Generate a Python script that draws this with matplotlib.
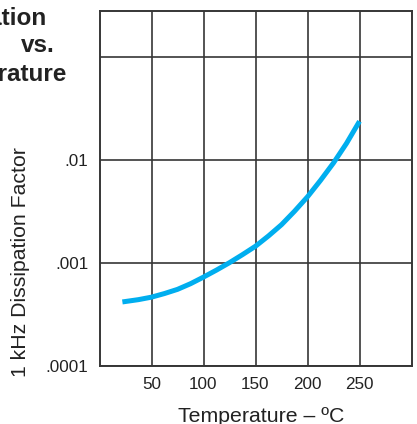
import matplotlib
matplotlib.use("Agg")
import matplotlib.pyplot as plt
from matplotlib.ticker import FixedLocator, FixedFormatter, NullLocator

# Dissipation factor at 1 kHz versus temperature
temperature_c = [22, 37.5, 50, 62.5, 75, 87.5, 100, 112.5, 125, 137.5,
                 150, 162.5, 175, 187.5, 200, 212.5, 225, 237.5, 250]
dissipation = [4.15e-4, 4.37e-4, 4.62e-4, 5.01e-4, 5.50e-4, 6.24e-4,
               7.24e-4, 8.47e-4, 1.0e-3, 1.197e-3, 1.445e-3, 1.82e-3,
               2.34e-3, 3.16e-3, 4.37e-3, 6.31e-3, 9.33e-3, 1.445e-2,
               2.37e-2]

x_ticks = [50, 100, 150, 200, 250]
x_tick_labels = ["50", "100", "150", "200", "250"]
y_ticks = [1e-4, 1e-3, 1e-2, 1e-1]
y_tick_labels = [".0001", ".001", ".01", ""]

title_lines = ["Dissipation", "vs.", "Temperature"]

plt.rcParams["font.family"] = ["Liberation Sans", "DejaVu Sans"]

fig = plt.figure(figsize=(4.17, 4.24), dpi=100)
ax = fig.add_axes([99.5 / 417, 1 - 365.5 / 424, 312 / 417, 354.5 / 424])

grid_color = "#363636"
ax.set_yscale("log")
ax.set_xlim(0, 300)
ax.set_ylim(1e-4, 0.28)

ax.xaxis.set_major_locator(FixedLocator(x_ticks))
ax.xaxis.set_major_formatter(FixedFormatter(x_tick_labels))
ax.xaxis.set_minor_locator(NullLocator())
ax.yaxis.set_major_locator(FixedLocator(y_ticks))
ax.yaxis.set_major_formatter(FixedFormatter(y_tick_labels))
ax.yaxis.set_minor_locator(NullLocator())

ax.grid(True, which="major", color=grid_color, linewidth=1.2)
ax.set_axisbelow(True)
for s in ax.spines.values():
    s.set_color(grid_color)
    s.set_linewidth(1.4)

ax.tick_params(axis="both", length=0, labelsize=12.3, colors="#222222", pad=8)

ax.plot(temperature_c, dissipation, color="#00aeef", linewidth=3.6,
        solid_capstyle="butt", solid_joinstyle="round", zorder=3)

fig.text(261 / 417, 1 - 416 / 424, "Temperature – ºC", ha="center", va="center",
         fontsize=15.3, color="#222222")
fig.text(21 / 417, 1 - 262 / 424, "1 kHz Dissipation Factor", ha="center",
         va="center", rotation=90, fontsize=15.3, color="#222222")

title_ends = [47, 55, 67]
title_y = [18, 46, 74]
for line, xe, yc in zip(title_lines, title_ends, title_y):
    fig.text(xe / 417, 1 - yc / 424, line, ha="right", va="center",
             fontsize=17.5, fontweight="bold", color="#222222")

fig.savefig("out.png", dpi=100)
